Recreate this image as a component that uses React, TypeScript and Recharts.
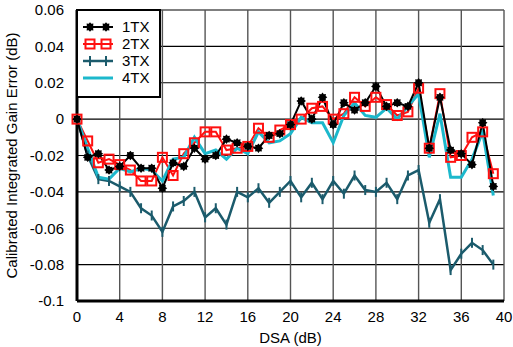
import { LineChart, Line, XAxis, YAxis, CartesianGrid } from "recharts";

const dsa = Array.from({ length: 40 }, (_, i) => i);

const tx1 = [
  0, -0.021, -0.019, -0.028, -0.026, -0.02, -0.027, -0.027, -0.038, -0.024,
  -0.026, -0.016, -0.022, -0.02, -0.011, -0.013, -0.015, -0.016, -0.009, -0.008,
  -0.003, 0.01, 0.0, 0.012, -0.003, 0.009, 0.005, 0.009, 0.018, 0.007,
  0.009, 0.007, 0.02, -0.016, 0.012, -0.017, -0.019, -0.025, -0.002, -0.037,
];
const tx2 = [
  0, -0.012, -0.024, -0.022, -0.025, -0.028, -0.034, -0.034, -0.021, -0.031,
  -0.019, -0.013, -0.007, -0.007, -0.017, -0.016, -0.015, -0.005, -0.01, -0.006,
  -0.003, 0.0, 0.006, 0.007, 0.0, 0.003, 0.012, 0.007, 0.012, 0.008,
  0.002, 0.004, 0.017, -0.016, 0.014, -0.021, -0.02, -0.01, -0.007, -0.03,
];
const tx3 = [
  0, -0.02, -0.033, -0.034, -0.037, -0.04, -0.049, -0.053, -0.062, -0.048,
  -0.045, -0.04, -0.054, -0.049, -0.058, -0.04, -0.043, -0.038, -0.046, -0.04,
  -0.034, -0.043, -0.035, -0.044, -0.034, -0.041, -0.031, -0.039, -0.04, -0.035,
  -0.044, -0.031, -0.028, -0.057, -0.044, -0.083, -0.074, -0.068, -0.072, -0.08,
];
const tx4 = [
  0, -0.016, -0.032, -0.033, -0.027, -0.029, -0.027, -0.028, -0.034, -0.022,
  -0.021, -0.01, -0.019, -0.017, -0.022, -0.016, -0.019, -0.007, -0.013, -0.012,
  -0.008, 0.001, -0.002, -0.002, -0.013, 0.002, 0.009, 0.002, 0.001, 0.006,
  0.0, 0.007, 0.014, -0.021, 0.003, -0.032, -0.032, -0.022, -0.007, -0.042,
];

const xTicks = [0, 4, 8, 12, 16, 20, 24, 28, 32, 36, 40];
const yTicks = [-0.1, -0.08, -0.06, -0.04, -0.02, 0, 0.02, 0.04, 0.06];

const data = dsa.map((d, i) => ({ dsa: d, tx1: tx1[i], tx2: tx2[i], tx3: tx3[i], tx4: tx4[i] }));

const FONT = "'Liberation Sans', Arial, sans-serif";
const FS = 15;
const C1 = "#000000";
const C2 = "#ff1010";
const C3 = "#1b5b6c";
const C4 = "#1cb8cc";

function starPath(cx: number, cy: number, ro: number, ri: number) {
  let d = "";
  for (let k = 0; k < 16; k++) {
    const r = k % 2 === 0 ? ro : ri;
    const a = (Math.PI * k) / 8;
    d += (k === 0 ? "M" : "L") + (cx + r * Math.cos(a)).toFixed(2) + "," + (cy + r * Math.sin(a)).toFixed(2);
  }
  return d + "Z";
}

const StarDot = (p: any) => {
  if (p.cx == null || p.cy == null) return <g key={p.key} />;
  return <path key={p.key} d={starPath(p.cx, p.cy, 4.8, 3.4)} fill={C1} stroke="none" />;
};
const SquareDot = (p: any) => {
  if (p.cx == null || p.cy == null) return <g key={p.key} />;
  return <rect key={p.key} x={p.cx - 4.5} y={p.cy - 4.5} width={9} height={9} fill="none" stroke={C2} strokeWidth={2} />;
};
const TickDot = (p: any) => {
  if (p.cx == null || p.cy == null) return <g key={p.key} />;
  return <line key={p.key} x1={p.cx} x2={p.cx} y1={p.cy - 5} y2={p.cy + 5} stroke={C3} strokeWidth={2} />;
};

const legendItems = [
  { name: "1TX", color: C1, kind: "star", width: 2 },
  { name: "2TX", color: C2, kind: "square", width: 2 },
  { name: "3TX", color: C3, kind: "tick", width: 2.5 },
  { name: "4TX", color: C4, kind: "none", width: 3 },
];

const LegendBox = () => (
  <div
    style={{
      position: "absolute",
      left: 76,
      top: 9,
      width: 81,
      height: 85,
      border: "2.5px solid #000",
      background: "#fff",
      fontFamily: FONT,
      fontSize: FS,
    }}
  >
    {legendItems.map((it, idx) => (
      <div key={it.name} style={{ display: "flex", alignItems: "center", height: 17, marginTop: idx === 0 ? 7 : 0 }}>
        <svg width={44} height={14} style={{ display: "block" }}>
          <line x1={5} x2={35} y1={7} y2={7} stroke={it.color} strokeWidth={it.width} />
          {it.kind === "star" && (
            <>
              <path d={starPath(12, 7, 4.8, 3.4)} fill={C1} />
              <path d={starPath(28, 7, 4.8, 3.4)} fill={C1} />
            </>
          )}
          {it.kind === "square" && (
            <>
              <rect x={7.5} y={2.5} width={9} height={9} fill="none" stroke={C2} strokeWidth={2} />
              <rect x={23.5} y={2.5} width={9} height={9} fill="none" stroke={C2} strokeWidth={2} />
            </>
          )}
          {it.kind === "tick" && (
            <>
              <line x1={12} x2={12} y1={2} y2={12} stroke={C3} strokeWidth={2} />
              <line x1={28} x2={28} y1={2} y2={12} stroke={C3} strokeWidth={2} />
            </>
          )}
        </svg>
        <span style={{ color: "#000", lineHeight: "15px" }}>{it.name}</span>
      </div>
    ))}
  </div>
);

const fmt = (v: number) => (v === 0 ? "0" : String(+v.toFixed(2)));

export default function App() {
  return (
    <div style={{ position: "absolute", left: 0, top: 0, width: 513, height: 347, background: "#fff" }}>
      <LineChart width={513} height={347} data={data} margin={{ top: 10, right: 9, left: 0, bottom: 0 }}>
        <CartesianGrid vertical={false} stroke="#000" strokeWidth={1.2} />
        <CartesianGrid horizontal={false} stroke="#555" strokeWidth={1.4} />
        <XAxis
          dataKey="dsa"
          type="number"
          domain={[0, 40]}
          ticks={xTicks}
          interval={0}
          tickLine={false}
          axisLine={{ stroke: "#000", strokeWidth: 3 }}
          tick={{ fontSize: FS, fill: "#000", fontFamily: FONT }}
          tickMargin={4}
          height={46}
          label={{ value: "DSA (dB)", position: "insideBottom", offset: 4, fontSize: FS, fill: "#000", fontFamily: FONT }}
        />
        <XAxis xAxisId="top" orientation="top" dataKey="dsa" type="number" domain={[0, 40]} tick={false} tickLine={false} height={0} axisLine={{ stroke: "#000", strokeWidth: 3 }} />
        <YAxis
          type="number"
          domain={[-0.1, 0.06]}
          ticks={yTicks}
          interval={0}
          tickLine={false}
          tickFormatter={fmt}
          axisLine={{ stroke: "#000", strokeWidth: 3 }}
          tick={{ fontSize: FS, fill: "#000", fontFamily: FONT }}
          tickMargin={7}
          width={77}
          label={{
            value: "Calibrated Integrated Gain Error (dB)",
            angle: -90,
            position: "insideLeft",
            offset: 12,
            style: { textAnchor: "middle", fontSize: FS, fill: "#000", fontFamily: FONT },
          }}
        />
        <YAxis yAxisId="right" orientation="right" domain={[-0.1, 0.06]} tick={false} tickLine={false} width={0} axisLine={{ stroke: "#000", strokeWidth: 3 }} />
        <Line dataKey="tx3" stroke={C3} strokeWidth={2.5} dot={TickDot} isAnimationActive={false} />
        <Line dataKey="tx2" stroke={C2} strokeWidth={2} dot={SquareDot} isAnimationActive={false} />
        <Line dataKey="tx4" stroke={C4} strokeWidth={3} dot={false} isAnimationActive={false} />
        <Line dataKey="tx1" stroke={C1} strokeWidth={2} dot={StarDot} isAnimationActive={false} />
      </LineChart>
      <LegendBox />
    </div>
  );
}
